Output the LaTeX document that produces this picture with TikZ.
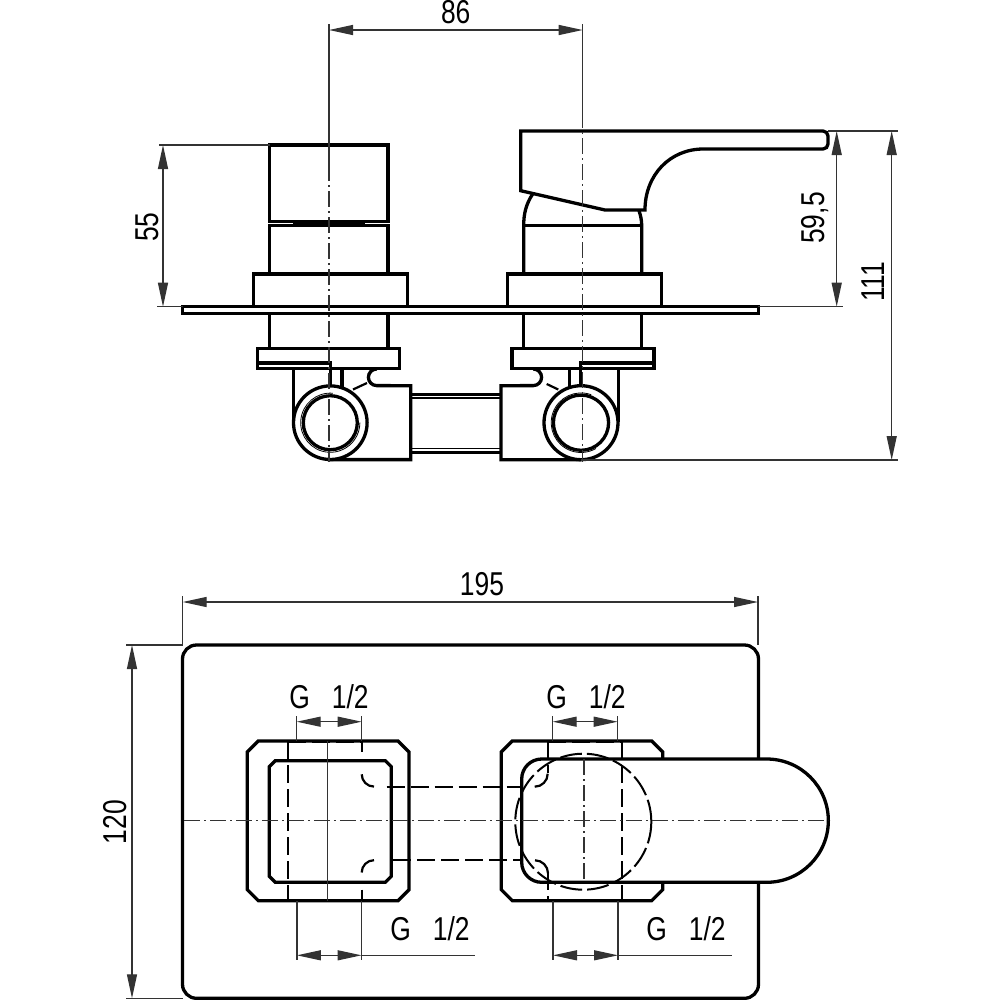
\documentclass[tikz,border=0pt]{standalone}
\usepackage{fontspec}
\setmainfont[FakeStretch=0.8]{Liberation Sans}
\usepackage{tikz}
\usetikzlibrary{arrows.meta,positioning,calc}

\begin{document}
\begin{tikzpicture}[x=0.1mm,y=-0.1mm,>={Triangle[length=2.4mm,width=1mm]},
                    line join=miter]
  \tikzstyle{part}=[line width=0.33mm,black]
  \tikzstyle{thinline}=[line width=0.13mm,black!80]
  \tikzstyle{hidden}=[line width=0.22mm,black,dash pattern=on 1.8mm off 0.6mm]
  \tikzstyle{axisline}=[line width=0.13mm,black!80,dash pattern=on 1.6mm off 0.4mm on 0.2mm off 0.4mm]
  \tikzstyle{dimline}=[thinline,<->]
  \tikzstyle{dimtext}=[inner sep=0pt,font=\fontsize{9.4}{11}\selectfont]

  \useasboundingbox (0,0) rectangle (1000,1000);
  \fill[white] (0,0) rectangle (1000,1000);

  % side view, left valve
  \draw[part] (269.5,145) rectangle (388,221.7);
  \draw[part] (269.5,274) -- (269.5,225.3) -- (388,225.3) -- (388,274);
  \draw[line width=0.35mm] (293,223.5) -- (365,223.5);
  \draw[part] (253.7,306.5) -- (253.7,274) -- (407.3,274) -- (407.3,306.5);
  \draw[part] (269.5,313.3) -- (269.5,348.7);
  \draw[part] (388,313.3) -- (388,348.7);
  \draw[part] (257.7,348.7) rectangle (399.7,368.3);
  \draw[part] (257.7,363) -- (330.7,363) -- (330.7,385.7);
  \draw[part] (293.7,368.3) -- (293.7,422);
  \draw[part] (342,368.3) -- (342,388);
  \draw[part] (376.7,369) arc[start angle=270,end angle=90,radius=8.3]
              -- (410.7,385.7) -- (410.7,459.6) -- (330,459.6);
  \draw[hidden] (353,389.5) -- (367,383);
  \draw[part,fill=white] (330.3,422.7) circle[radius=36.8];
  \draw[part] (330.3,422.7) circle[radius=27];
  \draw[line width=0.08mm] (330.3,422.7) ++(275:29.6) arc[start angle=275,end angle=0,radius=29.6];

  % side view, right valve
  \draw[part] (520.7,190.7) -- (520.7,131) -- (823,131)
              arc[start angle=270,end angle=360,radius=5] -- (828,144)
              arc[start angle=0,end angle=90,radius=5] -- (703.3,149)
              .. controls (670,149) and (645,175) .. (645,210)
              -- (605,210) -- cycle;
  \draw[part] (532.7,194) .. controls (526,204) and (523.7,214) .. (523.7,225.3)
              -- (523.7,274);
  \draw[part] (639,210.7) .. controls (640.5,215) and (641.7,220) .. (641.7,225.3)
              -- (641.7,274);
  \draw[part] (523.7,225.3) -- (641.7,225.3);
  \draw[part] (507.3,306.5) -- (507.3,274) -- (661.7,274) -- (661.7,306.5);
  \draw[part] (523.7,313.3) -- (523.7,348.7);
  \draw[part] (641.7,313.3) -- (641.7,348.7);
  \draw[part] (512,348.7) rectangle (654,368.3);
  \draw[part] (654,363) -- (580.7,363) -- (580.7,385.7);
  \draw[part] (618.3,368.3) -- (618.3,422);
  \draw[part] (569.3,368.3) -- (569.3,388);
  \draw[part] (533.3,369) arc[start angle=270,end angle=450,radius=8.3]
              -- (501,385.7) -- (501,459.8) -- (581,459.8);
  \draw[hidden] (546.7,384) -- (558.3,389.5);
  \draw[part,fill=white] (581,422.7) circle[radius=37];
  \draw[part] (581,422.7) circle[radius=27.6];
  \draw[line width=0.08mm] (581,422.7) ++(290:29.8) arc[start angle=290,end angle=60,radius=29.8];

  % plate and connecting pipe, side view
  \draw[part] (182.7,306.7) rectangle (758.3,313.3);
  \draw[part] (410.7,394.5) -- (501,394.5);
  \draw[line width=0.13mm] (410.7,398) -- (501,398);
  \draw[part] (410.7,452.5) -- (501,452.5);
  \draw[line width=0.13mm] (410.7,448.5) -- (501,448.5);

  % centre lines, side view
  \draw[thinline] (329,24) -- (329,165);
  \draw[axisline] (329,165) -- (329,462);
  \draw[thinline] (582.7,24) -- (582.7,112);
  \draw[axisline] (582.7,112) -- (582.7,462);

  % plan view
  \draw[part] (196.5,645) -- (744.5,645) arc[start angle=270,end angle=360,radius=14]
              -- (758.5,984.3) arc[start angle=0,end angle=90,radius=14]
              -- (196.5,998.3) arc[start angle=90,end angle=180,radius=14]
              -- (182.5,659) arc[start angle=180,end angle=270,radius=14] -- cycle;

  % left valve, plan view
  \draw[part] (258.3,741) -- (398,741) -- (409,752) -- (409,889.7) -- (398,900.7)
              -- (258.3,900.7) -- (247.3,889.7) -- (247.3,752) -- cycle;
  \draw[part] (275.3,760.7) -- (385.3,760.7) -- (391.3,766.7) -- (391.3,876.3)
              -- (385.3,882.3) -- (275.3,882.3) -- (269.3,876.3) -- (269.3,766.7) -- cycle;
  \draw[hidden] (287.7,741) -- (287.7,900.7);
  \draw[hidden] (287.7,741.6) -- (361.7,741.6);
  \draw[hidden] (287.7,900.1) -- (361.7,900.1);
  \draw[line width=0.22mm] (361.7,741) -- (361.7,752);
  \draw[line width=0.22mm] (361.7,889.5) -- (361.7,900.7);
  \draw[line width=0.22mm] (361.7,774.3) arc[start angle=180,end angle=90,radius=12.3];
  \draw[line width=0.22mm] (361.7,872.5) arc[start angle=180,end angle=270,radius=12.3];
  \draw[thinline] (327.7,741) -- (327.7,900.7);

  % right valve, plan view
  \draw[part] (512.3,741) -- (651.7,741) -- (662.7,752) -- (662.7,889.7) -- (651.7,900.7)
              -- (512.3,900.7) -- (501.3,889.7) -- (501.3,752) -- cycle;
  \draw[part,fill=white] (766.7,759) arc[start angle=270,end angle=450,radius=61.65]
              -- (541.7,882.3) arc[start angle=90,end angle=180,radius=20]
              -- (521.7,779) arc[start angle=180,end angle=270,radius=20] -- cycle;
  \draw[hidden] (547.7,741) -- (547.7,773);
  \draw[hidden] (547.7,872) -- (547.7,900.7);
  \draw[hidden] (621.7,741) -- (621.7,900.7);
  \draw[hidden] (547.7,741.6) -- (621.7,741.6);
  \draw[hidden] (547.7,900.1) -- (621.7,900.1);
  \draw[line width=0.22mm] (547.7,773.7) arc[start angle=0,end angle=90,radius=13];
  \draw[line width=0.22mm] (535,860.3) arc[start angle=270,end angle=360,radius=13];
  \draw[line width=0.2mm,dash pattern=on 2.2mm off 0.5mm] (583.3,821.7) circle[radius=68];
  \draw[axisline] (584,759) -- (584,882.3);
  \draw[hidden] (386.7,786.7) -- (521.7,786.7);
  \draw[hidden] (393,860.3) -- (521.7,860.3);
  \draw[axisline] (184,820.5) -- (828,820.5);

  % extension lines
  \draw[thinline] (159,145) -- (269.5,145);
  \draw[thinline] (157,306.7) -- (182.7,306.7);
  \draw[thinline] (828,131) -- (898,131);
  \draw[thinline] (758.3,306.7) -- (843,306.7);
  \draw[thinline] (581,460) -- (898,460);
  \draw[thinline] (182.7,596) -- (182.7,645);
  \draw[thinline] (758,596) -- (758,645);
  \draw[thinline] (126,645) -- (182.7,645);
  \draw[thinline] (126,998.3) -- (182.7,998.3);
  \draw[thinline] (296.7,716) -- (296.7,741);
  \draw[thinline] (361.7,716) -- (361.7,741);
  \draw[thinline] (552.7,716) -- (552.7,741);
  \draw[thinline] (617.7,716) -- (617.7,741);
  \draw[thinline] (296.9,900.7) -- (296.9,960);
  \draw[thinline] (361.5,900.7) -- (361.5,960);
  \draw[thinline] (553,900.7) -- (553,960);
  \draw[thinline] (618,900.7) -- (618,960);
  \draw[thinline] (361.5,955.3) -- (475,955.3);
  \draw[thinline] (618,955.3) -- (732,955.3);

  % dimensions
  \coordinate (topA) at (329,30);       \coordinate (topB) at (582.7,30);
  \coordinate (knobA) at (163,145);     \coordinate (knobB) at (163,306.7);
  \coordinate (leverA) at (836.7,131);  \coordinate (leverB) at (836.7,306.7);
  \coordinate (fullA) at (891.7,131);   \coordinate (fullB) at (891.7,460);
  \coordinate (wideA) at (182.7,602);   \coordinate (wideB) at (758,602);
  \coordinate (highA) at (132,645);     \coordinate (highB) at (132,998.3);
  \coordinate (gtlA) at (296.7,721.7);  \coordinate (gtlB) at (361.7,721.7);
  \coordinate (gtrA) at (552.7,721.7);  \coordinate (gtrB) at (617.7,721.7);
  \coordinate (gblA) at (296.9,955.3);  \coordinate (gblB) at (361.5,955.3);
  \coordinate (gbrA) at (553,955.3);    \coordinate (gbrB) at (618,955.3);

  \path (topA) edge[dimline] (topB);
  \path (knobA) edge[dimline] (knobB);
  \path (leverA) edge[dimline] (leverB);
  \path (fullA) edge[dimline] (fullB);
  \path (wideA) edge[dimline] (wideB);
  \path (highA) edge[dimline] (highB);
  \path (gtlA) edge[dimline] (gtlB);
  \path (gtrA) edge[dimline] (gtrB);
  \path (gblA) edge[dimline] (gblB);
  \path (gbrA) edge[dimline] (gbrB);

  \node[dimtext]          (L86)  at (455.7,12)  {86};
  \node[dimtext,rotate=90] (L55)  at (147,227)  {55};
  \node[dimtext,rotate=90] (L595) at (815,218)  {59,5};
  \node[dimtext,rotate=90] (L111) at (873,281.7) {111};
  \node[dimtext]          (L195) at (482,584)   {195};
  \node[dimtext,rotate=90] (L120) at (115,822)  {120};
  \node[dimtext]          (Gtl)  at (329,697)   {G\ \ \ 1/2};
  \node[dimtext]          (Gtr)  at (586,697)   {G\ \ \ 1/2};
  \node[dimtext]          (Gbl)  at (430,929)   {G\ \ \ 1/2};
  \node[dimtext]          (Gbr)  at (686,929)   {G\ \ \ 1/2};
\end{tikzpicture}
\end{document}
